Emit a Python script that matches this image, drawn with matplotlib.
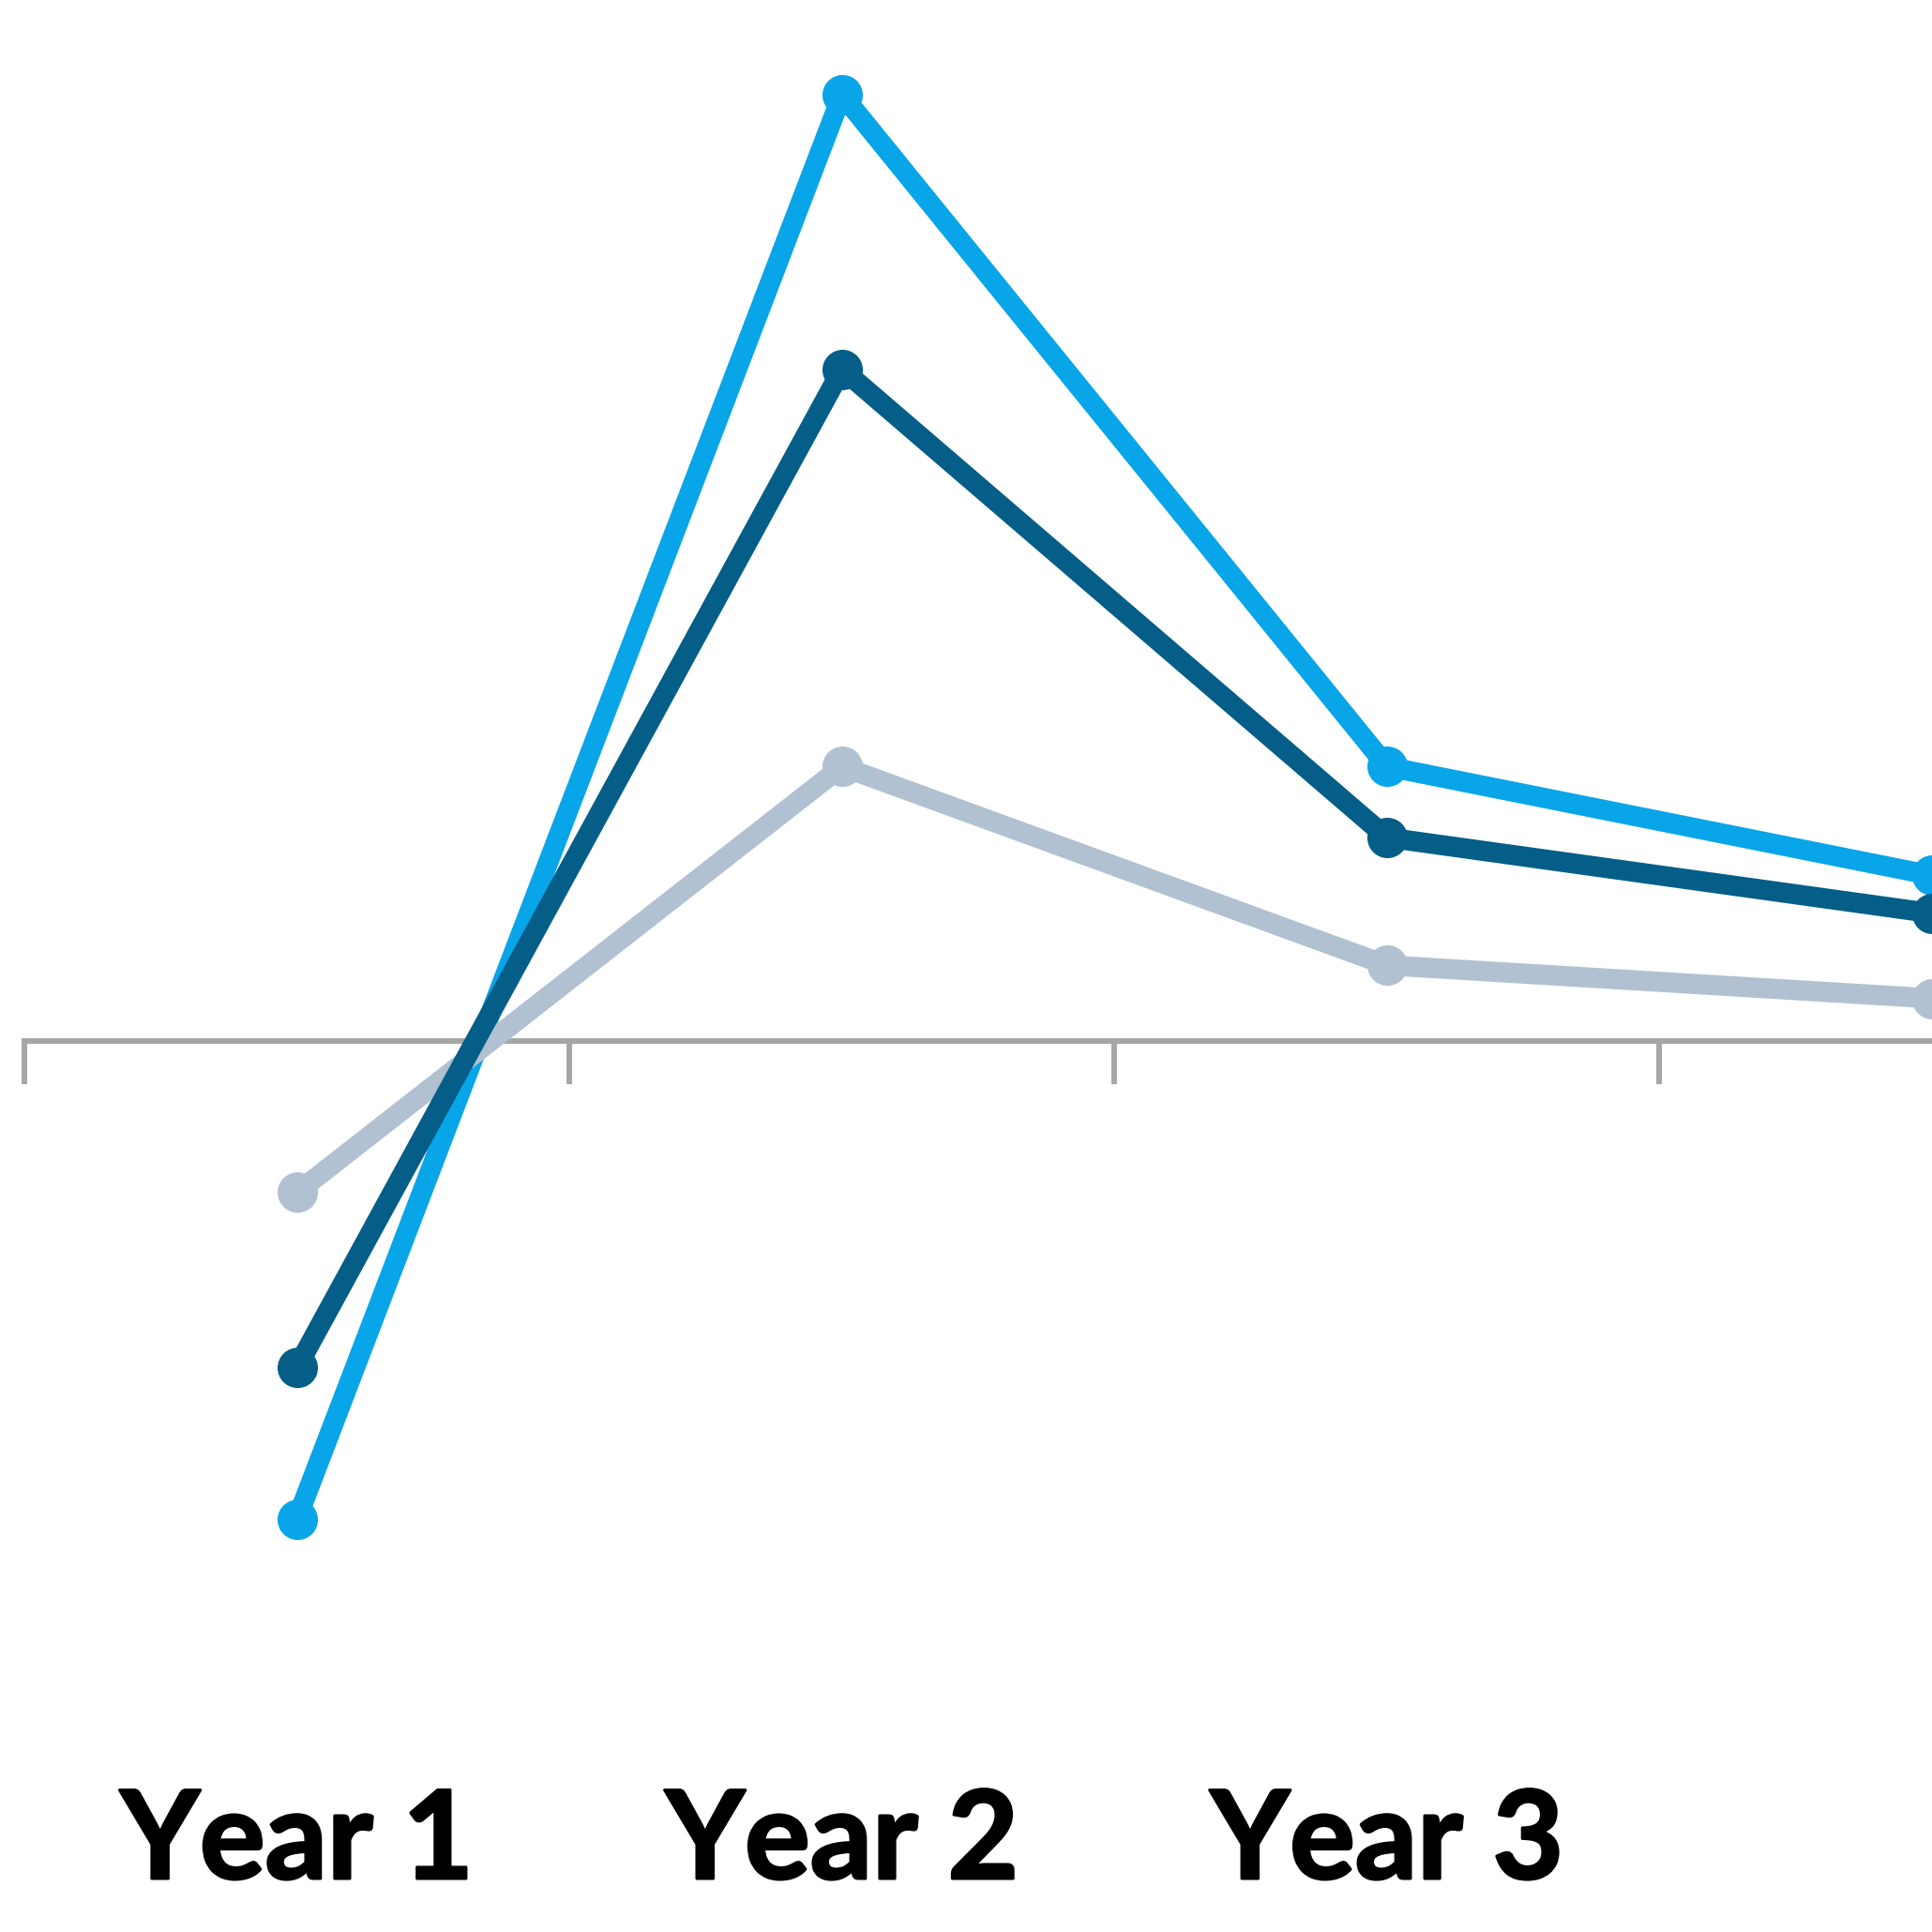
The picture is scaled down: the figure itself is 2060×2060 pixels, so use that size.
import matplotlib.pyplot as plt
import matplotlib.patheffects as pe

# values (growth, %)
years = ["Year 1", "Year 2", "Year 3", "Year 4"]
light_blue = [-10.1, 20.0, 5.8, 3.5]
dark_blue = [-6.9, 14.2, 4.3, 2.7]
grey = [-3.2, 5.8, 1.6, 0.9]

labelled = years[:3]

colors = {"light": "#08A5E8", "dark": "#045E87", "grey": "#B1C1D2"}


def main():
    fig = plt.figure(figsize=(20.6, 20.6), dpi=100)
    ax = fig.add_axes([0, 0, 1, 1])
    x = list(range(len(years)))

    ax.plot(x, light_blue, color=colors["light"], lw=15.5, marker="o", ms=30,
            solid_joinstyle="miter", zorder=3)
    ax.plot(x, grey, color=colors["grey"], lw=15.5, marker="o", ms=30,
            solid_joinstyle="miter", zorder=4)
    ax.plot(x, dark_blue, color=colors["dark"], lw=15.5, marker="o", ms=30,
            solid_joinstyle="miter", zorder=5)

    ax.set_xlim(-0.545, 3.0)
    ax.set_ylim(-18.83, 22.0)

    for s in ["top", "right", "left"]:
        ax.spines[s].set_visible(False)
    ax.spines["bottom"].set_position(("data", 0))
    ax.spines["bottom"].set_bounds(-0.5, 3.0)
    ax.spines["bottom"].set_color("#A6A6A6")
    ax.spines["bottom"].set_linewidth(4.3)
    ax.spines["bottom"].set_zorder(1)

    ax.set_xticks([i - 0.5 for i in x])
    ax.set_xticklabels([])
    ax.tick_params(axis="x", length=33, width=4.3, color="#A6A6A6")
    ax.set_yticks([])

    # heavier look, like the bold Calibri in the original
    heavy = [pe.withStroke(linewidth=2.2, foreground="black")]
    for i, lab in enumerate(labelled):
        ax.text(i, -17.7, lab, ha="center", va="baseline", fontsize=94,
                fontweight="bold", family=["Lato", "DejaVu Sans"], color="black",
                path_effects=heavy)

    fig.savefig("out.png", dpi=100)


if __name__ == "__main__":
    main()
